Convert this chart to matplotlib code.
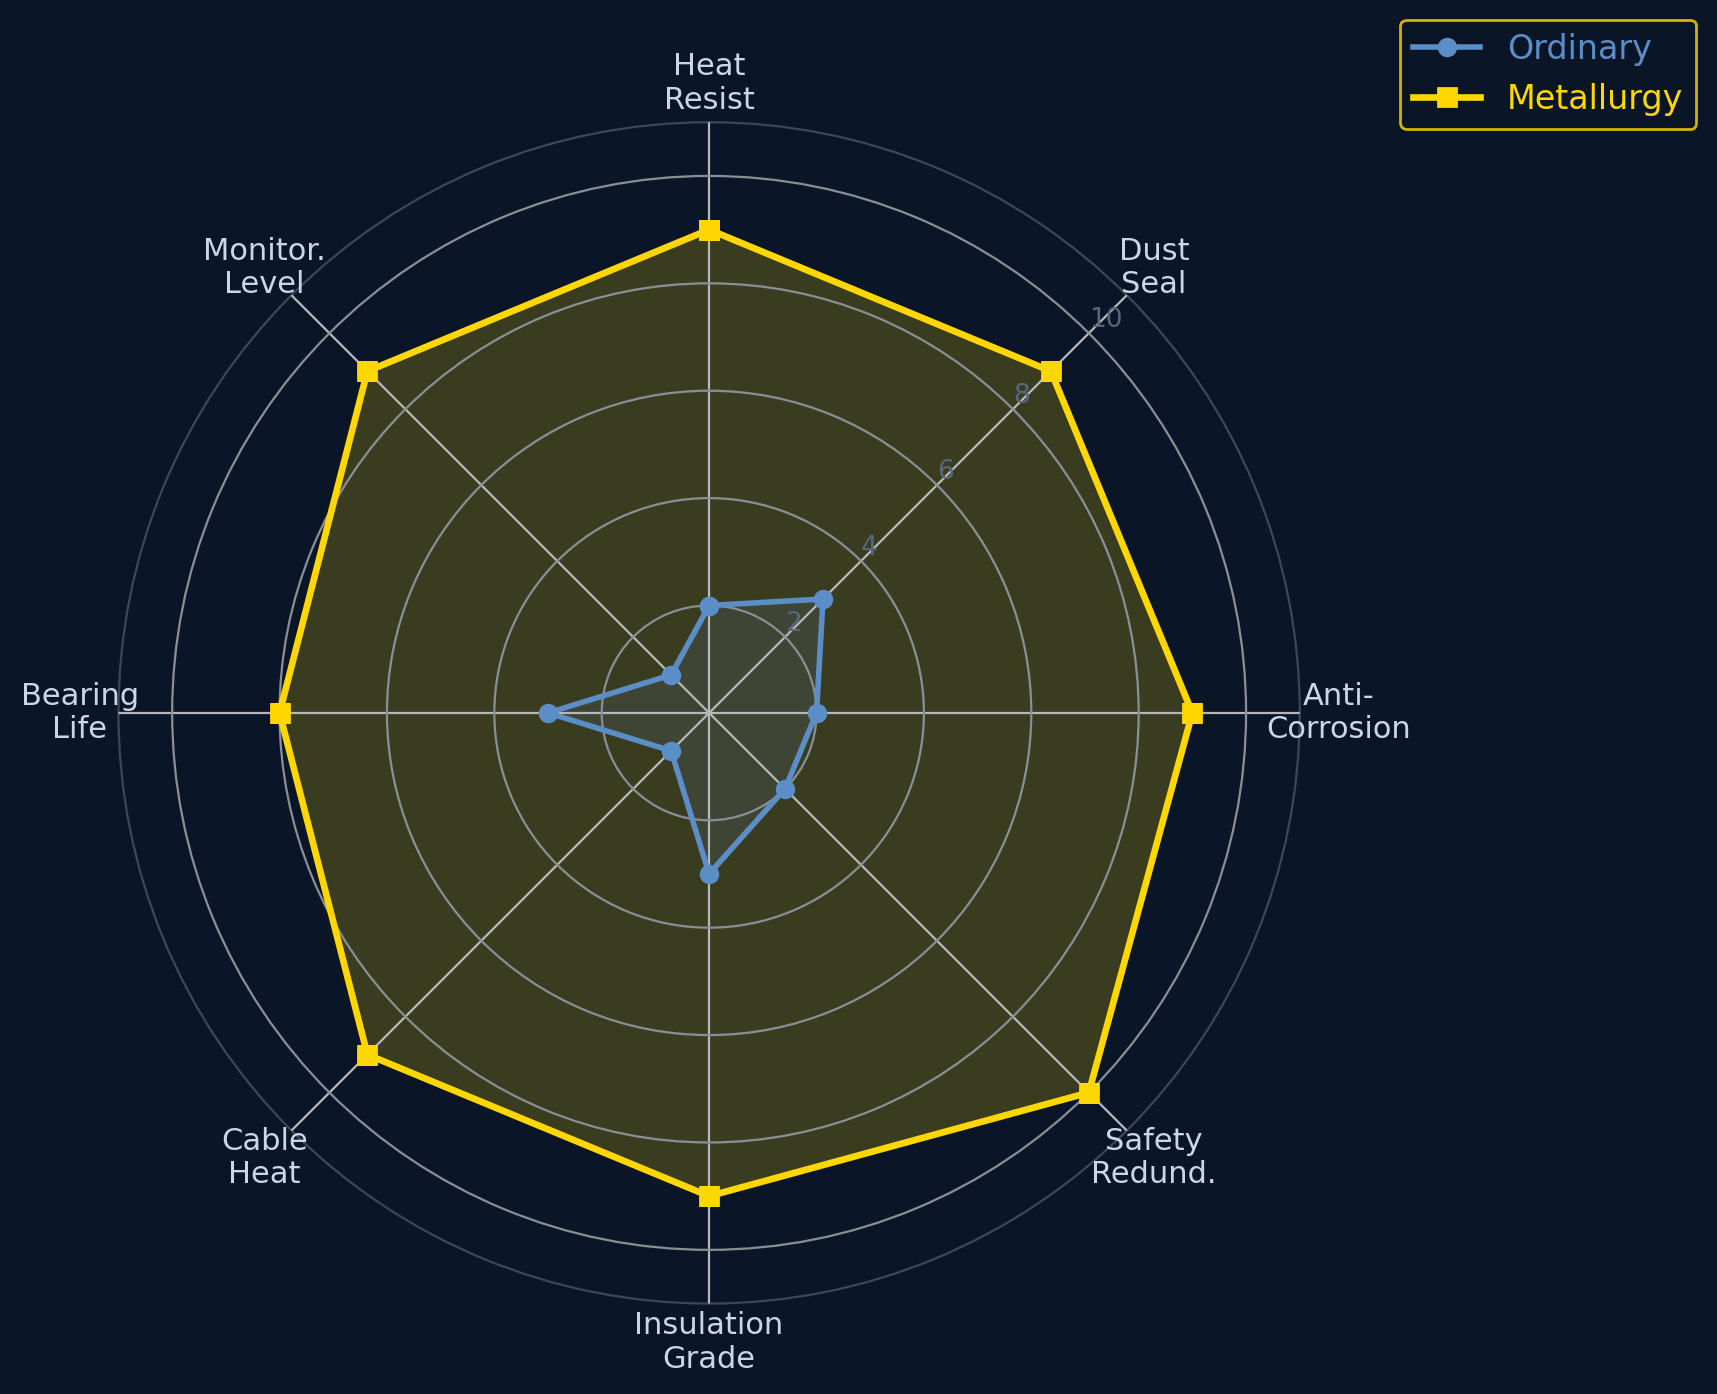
import numpy as np
import matplotlib
matplotlib.use("Agg")
import matplotlib.pyplot as plt

categories = ["Heat\nResist", "Dust\nSeal", "Anti-\nCorrosion", "Safety\nRedund.",
              "Insulation\nGrade", "Cable\nHeat", "Bearing\nLife", "Monitor.\nLevel"]
ordinary = [2, 3, 2, 2, 3, 1, 3, 1]
metallurgy = [9, 9, 9, 10, 9, 9, 8, 9]
rticks = [2, 4, 6, 8, 10]

BG = "#0a1628"
BLUE = "#5b8ec6"
GOLD = "#FFD700"
TXT = "#c8d8ea"

n = len(categories)
angles = np.linspace(0, 2 * np.pi, n, endpoint=False)
ang_c = np.append(angles, angles[0])

fig = plt.figure(figsize=(8.585, 6.97), dpi=200, facecolor=BG)
ax = fig.add_axes([0.069, 0.0646, 0.688, 0.848], polar=True)
ax.set_facecolor(BG)
ax.set_theta_offset(np.pi / 2)
ax.set_theta_direction(-1)
ax.set_ylim(0, 11)
ax.set_axisbelow(False)

o = np.append(ordinary, ordinary[0])
m = np.append(metallurgy, metallurgy[0])
ax.fill(ang_c, m, color=GOLD, alpha=0.2, zorder=1)
ax.fill(ang_c, o, color=BLUE, alpha=0.12, zorder=1.2)
ax.plot(ang_c, o, color=BLUE, lw=2, marker="o", ms=6, label="Ordinary", zorder=4)
ax.plot(ang_c, m, color=GOLD, lw=2.4, marker="s", ms=6.5, label="Metallurgy", zorder=5)

ax.set_xticks(angles)
ax.set_xticklabels([])
for a, lab in zip(angles, categories):
    ax.text(a, 11.72, lab, ha="center", va="center", color=TXT, fontsize=11,
            linespacing=1.2)

ax.set_yticks(rticks)
ax.set_yticklabels([str(t) for t in rticks], color="#56677d", fontsize=9.5)
ax.set_rlabel_position(45)
ax.xaxis.grid(True, color="#b8b8b8", lw=0.8)
ax.yaxis.grid(True, color="#8a8f96", lw=0.8)
ax.spines["polar"].set_color("#3a4859")
ax.spines["polar"].set_linewidth(0.8)

leg = fig.legend(loc="upper right", bbox_to_anchor=(0.988, 0.986),
                 bbox_transform=fig.transFigure, borderaxespad=0, fontsize=12,
                 facecolor=BG, edgecolor="#d4b400", framealpha=1)
for t, c in zip(leg.get_texts(), [BLUE, GOLD]):
    t.set_color(c)

fig.savefig("out.png", dpi=200, facecolor=BG)
